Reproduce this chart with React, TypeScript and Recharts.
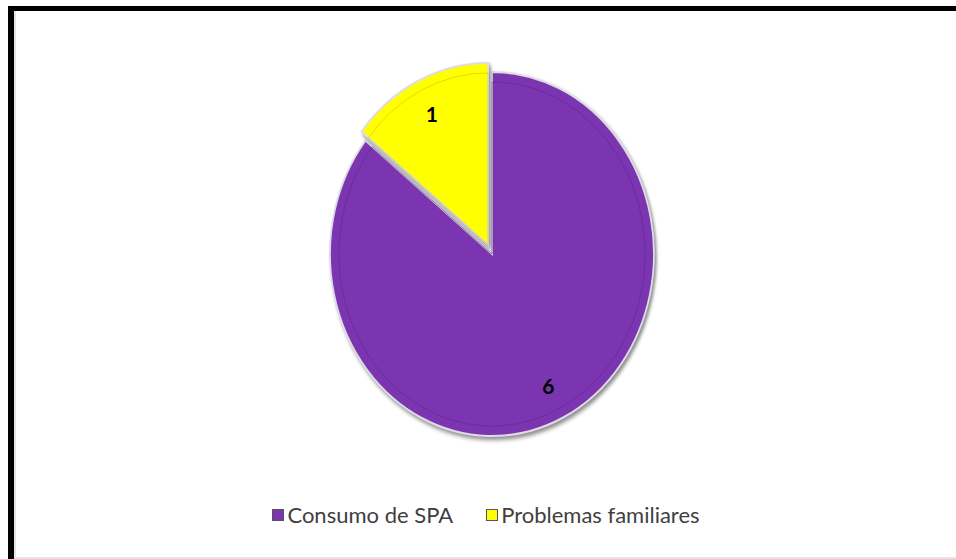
import React from 'react';
import { PieChart, Pie, Cell, Legend, Sector } from 'recharts';

const categories = ['Consumo de SPA', 'Problemas familiares'];
const values = [6, 1];
const colors = ['#7B35B0', '#FFFF00'];
const edgeColors = ['#5a2388', '#b8b800'];

const data = categories.map((name, i) => ({ name, value: values[i] }));

const RAD = Math.PI / 180;
const SX = 0.89;
const EXPLODE = [0, 10];

const SliceShape = (props: any) => {
  const { cx, cy, midAngle, index } = props;
  const off = EXPLODE[index] || 0;
  const ox = Math.cos(-midAngle * RAD) * off * SX;
  const oy = Math.sin(-midAngle * RAD) * off;
  return (
    <g
      transform={`translate(${cx + ox},${cy + oy}) scale(${SX},1) translate(${-cx},${-cy})`}
      style={{ filter: 'drop-shadow(2px 3px 2px rgba(0,0,0,0.45))' }}
    >
      <Sector {...props} stroke="#e0dce6" strokeWidth={2} />
      <Sector
        {...props}
        outerRadius={props.outerRadius - 10}
        fill="none"
        stroke={edgeColors[index]}
        strokeWidth={1}
        strokeOpacity={0.5}
      />
    </g>
  );
};

const renderLabel = (props: any) => {
  const { cx, cy, midAngle, outerRadius, index, value } = props;
  const off = EXPLODE[index] || 0;
  const frac = index === 0 ? 0.8 : 0.8;
  const r = outerRadius * frac + off;
  const x = cx + Math.cos(-midAngle * RAD) * r * SX;
  const y = cy + Math.sin(-midAngle * RAD) * r;
  return (
    <text
      x={x}
      y={y}
      textAnchor="middle"
      dominantBaseline="central"
      fill="#000"
      fontFamily="Lato, 'Open Sans', sans-serif"
      fontWeight={700}
      fontSize={21}
    >
      {value}
    </text>
  );
};

const LegendContent = (props: any) => {
  const payload = props.payload || [];
  return (
    <div
      style={{
        display: 'flex',
        justifyContent: 'center',
        gap: 33,
        paddingLeft: 16,
        fontFamily: "Lato, 'Open Sans', sans-serif",
        fontSize: 22,
        color: '#404040',
      }}
    >
      {payload.map((entry: any, i: number) => (
        <div key={i} style={{ display: 'flex', alignItems: 'center' }}>
          <span
            style={{
              display: 'inline-block',
              width: 10,
              height: 10,
              background: entry.color,
              border: '1px solid #555',
              marginRight: 3,
            }}
          />
          <span>{entry.value}</span>
        </div>
      ))}
    </div>
  );
};

export default function App() {
  return (
    <div style={{ position: 'absolute', left: 0, top: 0, width: 956, height: 559, background: '#fff', overflow: 'hidden' }}>
      <div
        style={{
          position: 'absolute',
          left: 8,
          top: 6,
          width: 948,
          height: 553,
          borderTop: '5px solid #000',
          borderLeft: '6px solid #000',
          boxSizing: 'border-box',
        }}
      >
        <div
          style={{
            position: 'absolute',
            left: 0,
            top: 0,
            right: 0,
            bottom: 0,
            borderLeft: '2px solid #e4e4e4',
            borderBottom: '2px solid #e4e4e4',
          }}
        />
      </div>
      <div style={{ position: 'absolute', left: 0, top: 0 }}>
        <PieChart width={956} height={559}>
          <Pie
            data={data}
            dataKey="value"
            nameKey="name"
            cx={487}
            cy={249}
            outerRadius={182}
            startAngle={90}
            endAngle={-270}
            stroke="none"
            shape={SliceShape}
            label={renderLabel}
            labelLine={false}
            isAnimationActive={false}
          >
            {data.map((d, i) => (
              <Cell key={d.name} fill={colors[i]} />
            ))}
          </Pie>
          <Legend
            verticalAlign="bottom"
            content={<LegendContent />}
            wrapperStyle={{ top: 501, bottom: 'auto', left: 0, width: 956 }}
          />
        </PieChart>
      </div>
    </div>
  );
}
